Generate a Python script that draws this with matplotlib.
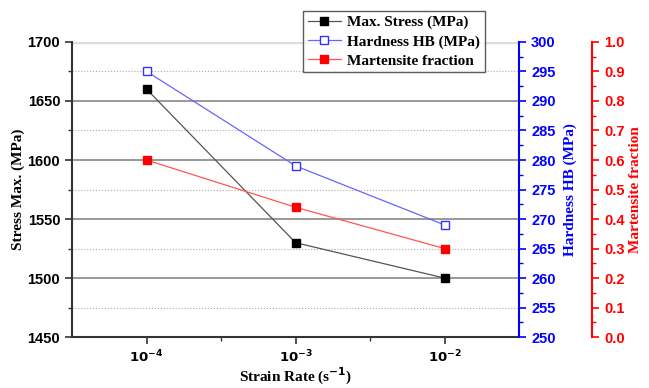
import numpy as np
import matplotlib
matplotlib.use("Agg")
from matplotlib import pyplot as plt
from matplotlib.lines import Line2D

# data
strain_labels = [r'$\mathbf{10^{-4}}$', r'$\mathbf{10^{-3}}$', r'$\mathbf{10^{-2}}$']
max_stress = [1660, 1530, 1500]
hardness = [295, 279, 269]
martensite = [0.6, 0.44, 0.3]

x = np.arange(len(strain_labels))

fig = plt.figure(figsize=(6.49, 3.88), dpi=100)
ax = fig.add_axes([0.111, 0.131, 0.689, 0.761])
ax2 = ax.twinx()
ax3 = ax.twinx()
ax3.spines['right'].set_position(('axes', 1.163))

lab_font = dict(family='Liberation Serif', weight='bold', size=11)

# grid
for v in [1500, 1550, 1600, 1650]:
    ax.axhline(v, color='#888888', lw=1.2, zorder=0)
ax.axhline(1700, color='#dddddd', lw=2.5, zorder=0)
for v in [1475, 1525, 1575, 1625, 1675]:
    ax.axhline(v, color='#aaaaaa', lw=0.8, ls=':', zorder=0)

ax.plot(x, max_stress, color='#555555', lw=0.9, marker='s', ms=6,
        mfc='black', mec='black', zorder=3)
ax2.plot(x, hardness, color='#6666ff', lw=0.9, marker='s', ms=6,
         mfc='white', mec='#3333ff', zorder=3)
ax3.plot(x, martensite, color='#ff5555', lw=0.9, marker='s', ms=6,
         mfc='red', mec='red', zorder=3)

ax.set_xlim(-0.5, 2.5)
ax.set_ylim(1450, 1700)
ax2.set_ylim(250, 300)
ax3.set_ylim(0, 1.0)

ax.set_xticks(x)
ax.set_xticks([0.5, 1.5], minor=True)
ax.set_xticklabels(strain_labels, fontsize=9.5)
ax.set_yticks([1450, 1500, 1550, 1600, 1650, 1700])
ax.set_yticks([1475, 1525, 1575, 1625, 1675], minor=True)
ax2.set_yticks(np.arange(250, 301, 5))
ax2.set_yticks(np.arange(252.5, 300, 5), minor=True)
ax3.set_yticks(np.round(np.arange(0, 1.01, 0.1), 1))
ax3.set_yticks(np.arange(0.05, 1.0, 0.1), minor=True)
ax3.set_yticklabels(['%.1f' % v for v in np.arange(0, 1.01, 0.1)])

for lab in ax.get_yticklabels() + ax2.get_yticklabels() + ax3.get_yticklabels():
    lab.set_fontfamily('Liberation Sans')
    lab.set_fontweight('bold')
    lab.set_fontsize(10.5)

for a in (ax, ax2, ax3):
    a.spines['top'].set_visible(False)
ax.spines['right'].set_visible(False)
ax3.spines['left'].set_visible(False)
ax2.spines['left'].set_visible(False)
ax.spines['left'].set_color('#333333')
ax.spines['left'].set_linewidth(1.5)
ax.spines['bottom'].set_color('#333333')
ax.spines['bottom'].set_linewidth(1.5)
ax2.spines['right'].set_color('blue')
ax2.spines['right'].set_linewidth(1.5)
ax3.spines['right'].set_color('red')
ax3.spines['right'].set_linewidth(1.5)
ax2.spines['bottom'].set_visible(False)
ax3.spines['bottom'].set_visible(False)

ax.tick_params(axis='both', which='major', length=5, width=1.2, color='#333333')
ax.tick_params(axis='both', which='minor', length=3, width=1.0, color='#333333')
ax2.tick_params(axis='y', which='major', length=5, width=1.2, colors='blue')
ax2.tick_params(axis='y', which='minor', length=3, width=1.0, colors='blue')
ax3.tick_params(axis='y', which='major', length=5, width=1.2, colors='red')
ax3.tick_params(axis='y', which='minor', length=3, width=1.0, colors='red')

ax.set_xlabel(r'Strain Rate (s$^{\mathbf{-1}}$)', labelpad=0, **lab_font)
ax.set_ylabel('Stress Max. (MPa)', labelpad=2, **lab_font)
ax2.set_ylabel('Hardness HB (MPa)', color='blue', labelpad=6, **lab_font)
ax3.set_ylabel('Martensite fraction', color='red', labelpad=3, **lab_font)

handles = [
    Line2D([], [], color='#555555', lw=0.9, marker='s', ms=6, mfc='black', mec='black'),
    Line2D([], [], color='#6666ff', lw=0.9, marker='s', ms=6, mfc='white', mec='#3333ff'),
    Line2D([], [], color='#ff5555', lw=0.9, marker='s', ms=6, mfc='red', mec='red'),
]
leg = fig.legend(handles, ['Max. Stress (MPa)', 'Hardness HB (MPa)', 'Martensite fraction'],
                 loc='upper left', bbox_to_anchor=(303 / 649, 1 - 11 / 388),
                 prop=dict(family='Liberation Serif', weight='bold', size=11),
                 frameon=True, fancybox=False, edgecolor='#333333',
                 handlelength=2.2, borderpad=0.3, labelspacing=0.35,
                 handletextpad=0.4, borderaxespad=0)
leg.get_frame().set_linewidth(1.0)

fig.savefig('out.png', dpi=100)
